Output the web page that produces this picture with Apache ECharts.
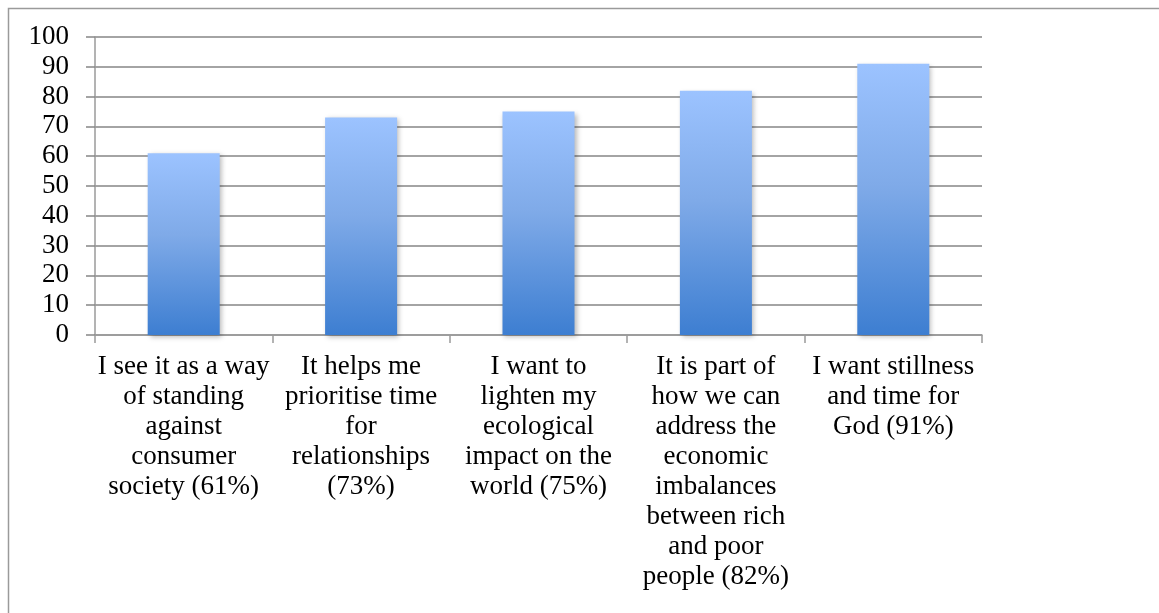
<!DOCTYPE html>
<html>
<head>
<meta charset="utf-8">
<script src="https://cdn.jsdelivr.net/npm/echarts@6/dist/echarts.min.js"></script>
<style>
  html, body { margin: 0; padding: 0; background: #ffffff; }
  #chart { width: 1159px; height: 613px; }
</style>
</head>
<body>
<div id="chart"></div>
<script>
// Reasons for living more simply, wrapped as they appear under each bar
const categories = [
  'I see it as a way\nof standing\nagainst\nconsumer\nsociety (61%)',
  'It helps me\nprioritise time\nfor\nrelationships\n(73%)',
  'I want to\nlighten my\necological\nimpact on the\nworld (75%)',
  'It is part of\nhow we can\naddress the\neconomic\nimbalances\nbetween rich\nand poor\npeople (82%)',
  'I want stillness\nand time for\nGod (91%)'
];
const values = [61, 73, 75, 82, 91];
const yTicks = { min: 0, max: 100, interval: 10 };

const textFont = '"Liberation Serif", "DejaVu Serif", serif';
const gridColor = '#868686';

const chart = echarts.init(document.getElementById('chart'), null, { renderer: 'canvas' });

chart.setOption({
  animation: false,
  backgroundColor: '#ffffff',
  graphic: [{
    type: 'rect',
    shape: { x: 8.5, y: 8.5, width: 1400, height: 900 },
    style: { fill: 'none', stroke: '#9a9a9a', lineWidth: 1.5 },
    silent: true,
    z: 0
  }],
  grid: { left: 95, right: 177, top: 37, bottom: 278, containLabel: false },
  xAxis: {
    type: 'category',
    data: categories,
    axisLine: { show: true, lineStyle: { color: '#9a9a9a', width: 1.5 } },
    axisTick: { show: true, alignWithLabel: false, length: 8, lineStyle: { color: '#9a9a9a', width: 1.5 } },
    axisLabel: {
      interval: 0,
      margin: 17,
      color: '#000000',
      fontFamily: textFont,
      fontSize: 27,
      lineHeight: 30,
      align: 'center'
    },
    splitLine: { show: false }
  },
  yAxis: {
    type: 'value',
    min: yTicks.min,
    max: yTicks.max,
    interval: yTicks.interval,
    axisLine: { show: true, lineStyle: { color: '#9a9a9a', width: 1.5 } },
    axisTick: { show: true, length: 9, lineStyle: { color: gridColor, width: 1.5 } },
    axisLabel: {
      margin: 26,
      color: '#000000',
      fontFamily: textFont,
      fontSize: 27
    },
    splitLine: { show: true, lineStyle: { color: gridColor, width: 1.5 } }
  },
  series: [{
    type: 'bar',
    data: values,
    barWidth: '40.6%',
    itemStyle: {
      color: new echarts.graphic.LinearGradient(0, 0, 0, 1, [
        { offset: 0, color: '#9cc3ff' },
        { offset: 0.45, color: '#7faae8' },
        { offset: 1, color: '#3d7ed1' }
      ]),
      shadowColor: 'rgba(0,0,0,0.28)',
      shadowBlur: 5,
      shadowOffsetX: 2,
      shadowOffsetY: 2
    },
    label: { show: false }
  }]
});
</script>
</body>
</html>
